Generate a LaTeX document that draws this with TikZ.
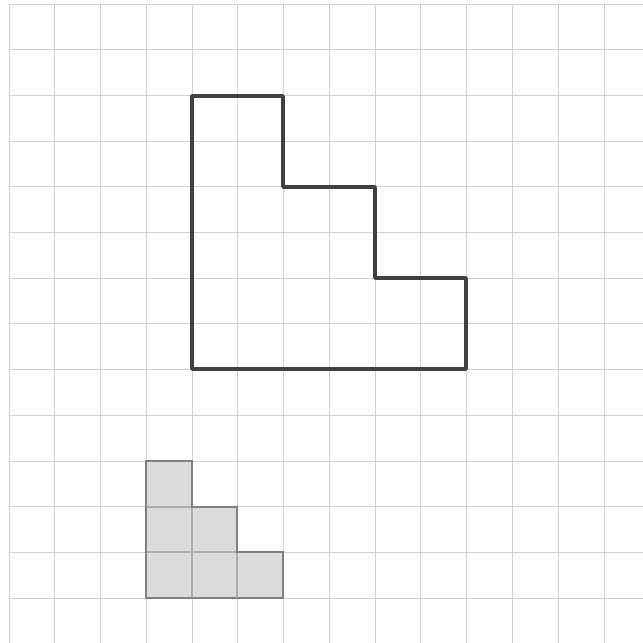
\documentclass[tikz,border=0pt]{standalone}
\begin{document}
\begin{tikzpicture}[x=0.05cm,y=-0.05cm,
  gridline/.style={draw=black!18,line width=1.4pt},
  bigshape/.style={draw=black!75,line width=5pt,line join=round},
  smallshape/.style={draw=black!50,line width=3pt}]
\useasboundingbox (0,0) rectangle (643,643);
\fill[white] (0,0) rectangle (643,643);
% grid
\foreach \i in {0,...,13} {
  \draw[gridline] ({9+45.77*\i},4) -- ({9+45.77*\i},643);
  \draw[gridline] (9,{4+45.7*\i}) -- (643,{4+45.7*\i});
}
% small shaded shape
\fill[black!14] (146,461) -- (192,461) -- (192,507) -- (237,507) -- (237,552) -- (283,552) -- (283,598) -- (146,598) -- cycle;
\draw[draw=black!32,line width=1.6pt] (146,507) -- (192,507) (146,552) -- (237,552) (192,507) -- (192,598) (237,552) -- (237,598);
\draw[smallshape] (146,461) -- (192,461) -- (192,507) -- (237,507) -- (237,552) -- (283,552) -- (283,598) -- (146,598) -- cycle;
% big outline shape
\draw[bigshape] (192,96) -- (283,96) -- (283,187) -- (375,187) -- (375,278) -- (466,278) -- (466,369) -- (192,369) -- cycle;
\end{tikzpicture}
\end{document}
